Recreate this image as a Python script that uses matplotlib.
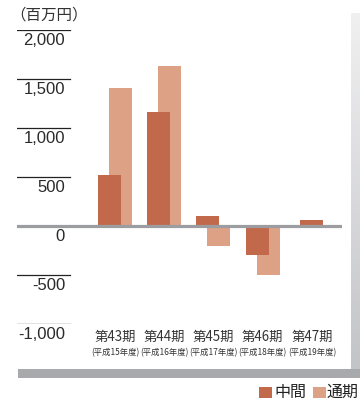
import numpy as np
import matplotlib
matplotlib.use('Agg')
import matplotlib.pyplot as plt
from matplotlib.patches import Rectangle
from matplotlib.transforms import blended_transform_factory

# 業績推移（百万円）
periods = ['第43期', '第44期', '第45期', '第46期', '第47期']
years = ['(平成15年度)', '(平成16年度)', '(平成17年度)', '(平成18年度)', '(平成19年度)']
interim = [520, 1160, 105, -300, 60]
full_year = [1410, 1635, -200, -495, np.nan]
series_names = ['中間', '通期']
colors = ['#C2694B', '#DDA286']

yticks = [-1000, -500, 0, 500, 1000, 1500, 2000]
ytick_labels = ['-1,000', '-500', '0', '500', '1,000', '1,500', '2,000']

W, H = 360, 401
def fx(px):
    return px / W
def fy(px):
    return 1 - px / H

fig = plt.figure(figsize=(3.6, 4.01), dpi=100, facecolor='white')
cjk = ['Noto Sans CJK JP', 'DejaVu Sans']

# 影付きの枠
grad = fig.add_axes([fx(351), fy(378), fx(9), (378 - 13) / H])
grad.imshow(np.linspace(0, 1, 100).reshape(-1, 1), aspect='auto',
            cmap=matplotlib.colors.LinearSegmentedColormap.from_list('g', ['#f0f0f1', '#c2c3c6']),
            extent=(0, 1, 0, 1), origin='upper')
grad.axis('off')
fig.add_artist(Rectangle((fx(18), fy(378)), fx(342), 9 / H, transform=fig.transFigure,
                         facecolor='#A8A9AC', edgecolor='none'))

ax = fig.add_axes([fx(17), fy(324), fx(325), 294 / H])
ax.set_ylim(-1000, 2000)
ax.set_xlim(-1.99, 4.61)
ax.axis('off')

x = np.arange(len(periods))
off = 0.112
width = 0.467
for i in x:
    if np.isnan(full_year[i]):
        ax.bar(i, interim[i], width, color=colors[0], zorder=3)
    else:
        ax.bar(i + off, full_year[i], width, color=colors[1], zorder=2)
        ax.bar(i - off, interim[i], width, color=colors[0], zorder=3)

ax.axhline(0, color='#9C9DA0', lw=2.3, zorder=4)

for v, lab in zip(yticks, ytick_labels):
    if v != 0:
        ax.axhline(v, 0, 0.163, color='#222222', lw=0.9)
    ax.annotate(lab, xy=(0.148, v), xycoords=('axes fraction', 'data'),
                xytext=(0, -2.5), textcoords='offset points',
                ha='right', va='top', fontsize=12, color='#2a2a2a',
                family='Liberation Sans', annotation_clip=False)

tr = blended_transform_factory(ax.transData, ax.transAxes)
for i in x:
    ax.text(i, -0.044, periods[i], transform=tr, ha='center', va='center',
            fontsize=9.6, family=cjk, color='#333333')
    ax.text(i, -0.099, years[i], transform=tr, ha='center', va='center',
            fontsize=6, family=cjk, color='#333333')

fig.text(fx(10), fy(15), '（百万円）', ha='left', va='center', fontsize=11.2,
         family=cjk, color='#333333')

# 凡例
for sx, tx, name, c in [(259, 274, series_names[0], colors[0]),
                        (313, 327, series_names[1], colors[1])]:
    fig.add_artist(Rectangle((fx(sx), fy(398)), fx(13), 11 / H,
                             transform=fig.transFigure, facecolor=c, edgecolor='none'))
    fig.text(fx(tx), fy(392.5), name, ha='left', va='center', fontsize=11.5,
             family=cjk, color='#222222')

fig.savefig('out.png', dpi=100)
